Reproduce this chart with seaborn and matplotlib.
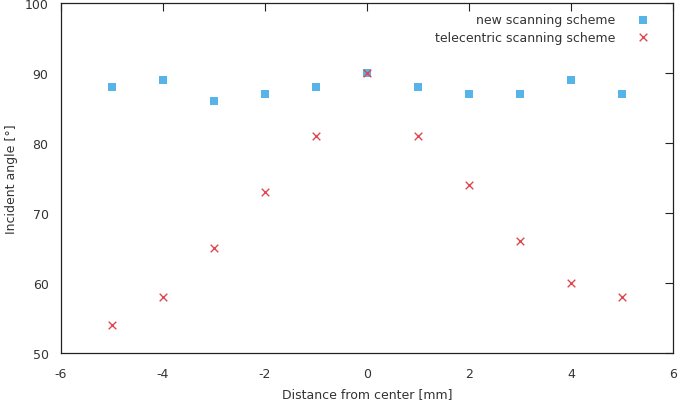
import numpy as np
import pandas as pd
import matplotlib
matplotlib.use("Agg")
import matplotlib.pyplot as plt
import seaborn as sns

distance = [-5, -4, -3, -2, -1, 0, 1, 2, 3, 4, 5]
new_scheme = [88, 89, 86, 87, 88, 90, 88, 87, 87, 89, 87]
telecentric = [54, 58, 65, 73, 81, 90, 81, 74, 66, 60, 58]
series_names = ["new scanning scheme", "telecentric scanning scheme"]

sns.set_theme(style="white")
plt.rcParams['font.family'] = ['DejaVu Sans']
plt.rcParams['axes.unicode_minus'] = False

fig = plt.figure(figsize=(6.8, 4.06), dpi=100)
ax = fig.add_axes([61/680, 52/406, 612/680, 350/406])

df_new = pd.DataFrame({"x": distance, "y": new_scheme})
df_tel = pd.DataFrame({"x": distance, "y": telecentric})

sns.scatterplot(data=df_new, x="x", y="y", ax=ax, marker="s", s=26,
                color="#56b4e9", edgecolor="none", label=series_names[0], zorder=3)
sns.scatterplot(data=df_tel, x="x", y="y", ax=ax, marker="x", s=30,
                color="#e0474c", linewidth=1.0, label=series_names[1], zorder=4)

ax.set_xlim(-6, 6)
ax.set_ylim(50, 100)
ax.set_xticks(np.arange(-6, 7, 2))
ax.set_yticks(np.arange(50, 101, 10))
ax.tick_params(direction="in", length=6, width=0.8, colors="#222222",
               top=True, right=True, labelsize=9)
ax.tick_params(axis="x", labelcolor="#333333", pad=10)
ax.tick_params(axis="y", labelcolor="#333333", pad=9)
for sp in ax.spines.values():
    sp.set_color("#222222")
    sp.set_linewidth(0.9)

ax.set_xlabel("Distance from center [mm]", fontsize=9, color="#333333", labelpad=5)
ax.set_ylabel("Incident angle [°]", fontsize=9, color="#333333", labelpad=5)

leg = ax.legend(loc="upper right", frameon=False, markerfirst=False, fontsize=9,
                handletextpad=1.6, borderaxespad=1.4, labelspacing=0.35,
                handlelength=1.2, bbox_to_anchor=(1.0, 1.035))
for t in leg.get_texts():
    t.set_color("#333333")
    t.set_ha("right")

fig.savefig("out.png", dpi=100)
